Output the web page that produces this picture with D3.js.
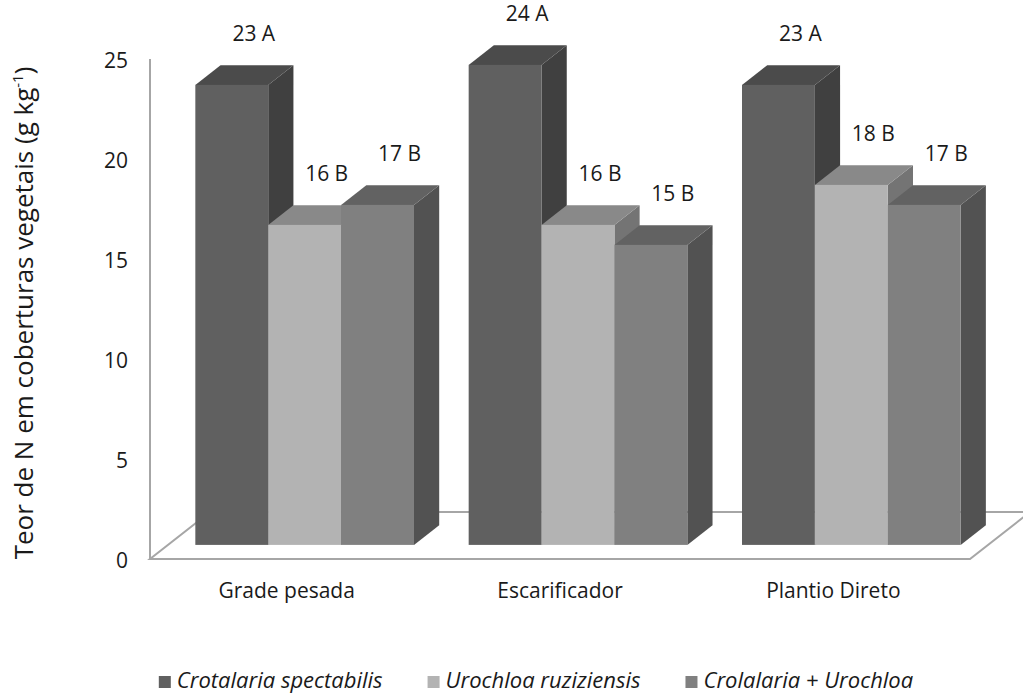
<!DOCTYPE html>
<html>
<head>
<meta charset="utf-8">
<script src="https://cdn.jsdelivr.net/npm/d3@7"></script>
<style>
  body { margin: 0; background: #ffffff; }
  svg { display: block; }
</style>
</head>
<body>
<svg id="chart" width="1023" height="696"></svg>
<script>
// Nitrogen content of cover crops under three soil tillage systems
const categories = ["Grade pesada", "Escarificador", "Plantio Direto"];
const seriesNames = ["Crotalaria spectabilis", "Urochloa ruziziensis", "Crolalaria + Urochloa"];
const crotalaria = [23, 24, 23];
const urochloa = [16, 16, 18];
const consorcio = [17, 15, 17];
const crotalariaLetters = ["A", "A", "A"];
const urochloaLetters = ["B", "B", "B"];
const consorcioLetters = ["B", "B", "B"];
const yTicks = [0, 5, 10, 15, 20, 25];

const seriesValues = [crotalaria, urochloa, consorcio];
const seriesLetters = [crotalariaLetters, urochloaLetters, consorcioLetters];

// shading of the three visible faces of each box
const faces = [
  { front: "#606060", top: "#4b4b4b", side: "#404040" },
  { front: "#b3b3b3", top: "#898989", side: "#747474" },
  { front: "#808080", top: "#626262", side: "#525252" }
];

const svg = d3.select("#chart");
const font = "'Open Sans', 'DejaVu Sans', sans-serif";

// floor front edge and oblique depth vector
const plotLeft = 150, plotRight = 970;
const depth = { x: 60, y: -47 };
const frontT = 0.3, backT = 0.72;
const off = (t) => ({ x: depth.x * t, y: depth.y * t });
const fOff = off(frontT), bOff = off(backT);

const y = d3.scaleLinear().domain([0, 25]).range([559, 59]);
const x0 = d3.scaleBand().domain(categories).range([plotLeft, plotRight])
  .paddingInner(0.2).paddingOuter(0.1);
const x1 = d3.scaleBand().domain(d3.range(seriesNames.length)).range([0, x0.bandwidth()]);

// floor
const fy = y(0);
svg.append("polygon")
  .attr("points", [
    [plotLeft, fy], [plotRight, fy],
    [plotRight + depth.x, fy + depth.y], [plotLeft + depth.x, fy + depth.y]
  ].map(p => p.join(",")).join(" "))
  .attr("fill", "#ffffff")
  .attr("stroke", "#a6a6a6")
  .attr("stroke-width", 2);

// value axis
svg.append("line")
  .attr("x1", plotLeft).attr("x2", plotLeft)
  .attr("y1", y(0)).attr("y2", y(25))
  .attr("stroke", "#a6a6a6").attr("stroke-width", 2);

svg.append("g").selectAll("text").data(yTicks).join("text")
  .attr("x", 128).attr("y", d => y(d) + 3)
  .attr("text-anchor", "end").attr("dominant-baseline", "middle")
  .attr("font-family", font).attr("font-size", 21).attr("fill", "#1a1a1a")
  .text(d => d);

// axis title
const title = svg.append("text")
  .attr("transform", "translate(33,313) rotate(-90)")
  .attr("text-anchor", "middle")
  .attr("font-family", font)
  .attr("font-size", 26).attr("fill", "#1a1a1a");
title.append("tspan").text("Teor de N em coberturas vegetais (g kg");
title.append("tspan").attr("font-size", 15).attr("dy", -10).text("-1");
title.append("tspan").attr("dy", 10).text(")");

// boxes
const boxes = [];
categories.forEach((c, ci) => {
  seriesValues.forEach((vals, si) => {
    boxes.push({ cat: c, ci, si, value: vals[ci], letter: seriesLetters[si][ci] });
  });
});

const bars = svg.append("g");
boxes.forEach(b => {
  const left = x0(b.cat) + x1(b.si) + fOff.x;
  const right = left + x1.bandwidth();
  const top = y(b.value) + fOff.y;
  const bottom = y(0) + fOff.y;
  const dx = bOff.x - fOff.x, dy = bOff.y - fOff.y;
  const g = bars.append("g");
  g.append("polygon")
    .attr("points", [[right, top], [right + dx, top + dy], [right + dx, bottom + dy], [right, bottom]]
      .map(p => p.join(",")).join(" "))
    .attr("fill", faces[b.si].side);
  g.append("polygon")
    .attr("points", [[left, top], [right, top], [right + dx, top + dy], [left + dx, top + dy]]
      .map(p => p.join(",")).join(" "))
    .attr("fill", faces[b.si].top);
  g.append("rect")
    .attr("x", left).attr("y", top)
    .attr("width", right - left).attr("height", bottom - top)
    .attr("fill", faces[b.si].front);
  b.labelX = (left + right) / 2 + 22;
  b.labelY = top + dy - 24;
});

svg.append("g").selectAll("text").data(boxes).join("text")
  .attr("x", d => d.labelX).attr("y", d => d.labelY)
  .attr("text-anchor", "middle")
  .attr("font-family", font).attr("font-size", 21).attr("fill", "#1a1a1a")
  .text(d => `${d.value} ${d.letter}`);

// category labels
svg.append("g").selectAll("text").data(categories).join("text")
  .attr("x", d => x0(d) + x0.bandwidth() / 2)
  .attr("y", 598)
  .attr("text-anchor", "middle")
  .attr("font-family", font).attr("font-size", 21).attr("fill", "#1a1a1a")
  .text(d => d);

// legend
const legend = svg.append("g");
const items = legend.selectAll("g").data(seriesNames).join("g");
items.append("rect")
  .attr("width", 12).attr("height", 12).attr("y", 676)
  .attr("fill", (d, i) => faces[i].front);
items.append("text")
  .attr("x", 18).attr("y", 688)
  .attr("font-family", font).attr("font-size", 22).attr("font-style", "italic")
  .attr("fill", "#1a1a1a")
  .text(d => d);
let cursor = 0;
const offsets = [];
items.each(function () {
  const w = d3.select(this).select("text").node().getComputedTextLength();
  offsets.push(cursor);
  cursor += 18 + w + 45;
});
const total = cursor - 45;
const startX = 536 - total / 2;
items.attr("transform", (d, i) => `translate(${startX + offsets[i]},0)`);
</script>
</body>
</html>
